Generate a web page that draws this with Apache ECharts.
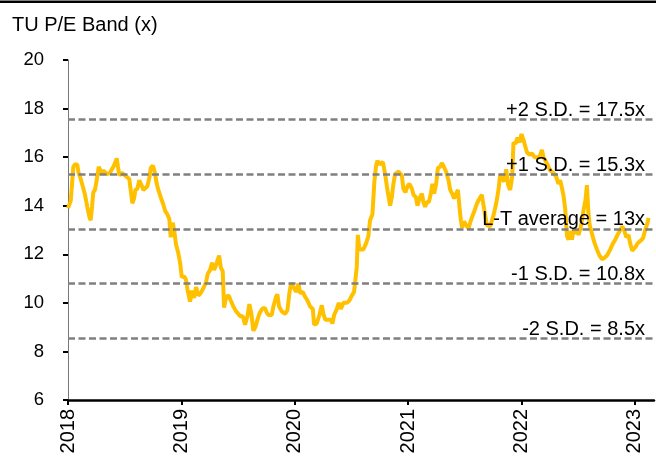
<!DOCTYPE html>
<html>
<head>
<meta charset="utf-8">
<script src="https://cdn.jsdelivr.net/npm/echarts@6/dist/echarts.min.js"></script>
<style>
  html, body { margin: 0; padding: 0; background: #fff; }
  #chart { width: 656px; height: 461px; }
</style>
</head>
<body>
<div id="chart"></div>
<script>
// decimal years
const dates = [
  2018.000, 2018.024, 2018.047, 2018.062, 2018.082, 2018.091, 2018.106, 2018.130, 2018.150, 2018.170,
  2018.188, 2018.200, 2018.212, 2018.223, 2018.238, 2018.253, 2018.271, 2018.282, 2018.297, 2018.312,
  2018.327, 2018.342, 2018.356, 2018.371, 2018.386, 2018.400, 2018.415, 2018.430, 2018.441, 2018.453,
  2018.474, 2018.488, 2018.503, 2018.518, 2018.541, 2018.553, 2018.568, 2018.583, 2018.594, 2018.612,
  2018.629, 2018.642, 2018.653, 2018.665, 2018.682, 2018.700, 2018.718, 2018.730, 2018.748, 2018.765,
  2018.783, 2018.797, 2018.818, 2018.841, 2018.856, 2018.876, 2018.894, 2018.906, 2018.924, 2018.938,
  2018.953, 2018.973, 2018.989, 2019.004, 2019.024, 2019.041, 2019.056, 2019.077, 2019.094, 2019.112,
  2019.130, 2019.150, 2019.171, 2019.194, 2019.218, 2019.233, 2019.253, 2019.271, 2019.289, 2019.306,
  2019.333, 2019.348, 2019.365, 2019.377, 2019.395, 2019.418, 2019.436, 2019.459, 2019.483, 2019.503,
  2019.518, 2019.542, 2019.562, 2019.583, 2019.600, 2019.618, 2019.635, 2019.653, 2019.671, 2019.688,
  2019.712, 2019.736, 2019.754, 2019.768, 2019.798, 2019.812, 2019.836, 2019.847, 2019.862, 2019.886,
  2019.915, 2019.936, 2019.953, 2019.968, 2019.989, 2020.012, 2020.033, 2020.048, 2020.071, 2020.092,
  2020.112, 2020.136, 2020.160, 2020.171, 2020.195, 2020.218, 2020.239, 2020.253, 2020.271, 2020.297,
  2020.319, 2020.333, 2020.348, 2020.372, 2020.389, 2020.407, 2020.430, 2020.460, 2020.483, 2020.504,
  2020.524, 2020.539, 2020.548, 2020.557, 2020.571, 2020.586, 2020.606, 2020.630, 2020.650, 2020.665,
  2020.686, 2020.703, 2020.718, 2020.730, 2020.748, 2020.760, 2020.778, 2020.798, 2020.818, 2020.842,
  2020.857, 2020.871, 2020.886, 2020.915, 2020.945, 2020.959, 2020.977, 2020.995, 2021.012, 2021.034,
  2021.048, 2021.069, 2021.083, 2021.101, 2021.122, 2021.136, 2021.151, 2021.166, 2021.184, 2021.201,
  2021.215, 2021.230, 2021.248, 2021.263, 2021.283, 2021.298, 2021.312, 2021.336, 2021.357, 2021.372,
  2021.389, 2021.407, 2021.425, 2021.440, 2021.454, 2021.466, 2021.477, 2021.495, 2021.513, 2021.533,
  2021.548, 2021.566, 2021.583, 2021.601, 2021.619, 2021.651, 2021.672, 2021.695, 2021.725, 2021.754,
  2021.778, 2021.798, 2021.813, 2021.828, 2021.848, 2021.866, 2021.883, 2021.901, 2021.919, 2021.930,
  2021.948, 2021.966, 2021.983, 2022.001, 2022.019, 2022.034, 2022.049, 2022.071, 2022.093, 2022.116,
  2022.137, 2022.160, 2022.181, 2022.195, 2022.225, 2022.254, 2022.283, 2022.307, 2022.327, 2022.342,
  2022.357, 2022.372, 2022.387, 2022.402, 2022.416, 2022.431, 2022.446, 2022.460, 2022.475, 2022.490,
  2022.504, 2022.525, 2022.548, 2022.566, 2022.578, 2022.590, 2022.601, 2022.622, 2022.643, 2022.666,
  2022.689, 2022.711, 2022.733, 2022.755, 2022.784, 2022.808, 2022.828, 2022.848, 2022.872, 2022.890,
  2022.907, 2022.925, 2022.945, 2022.960, 2022.978, 2022.989, 2023.007, 2023.025, 2023.049, 2023.072,
  2023.093, 2023.113, 2023.122
];

const peValues = [
  13.9, 14.2, 15.6, 15.7, 15.7, 15.4, 15.2, 14.8, 14.45, 13.95,
  13.55, 13.4, 13.95, 14.55, 14.65, 15.05, 15.6, 15.65, 15.35, 15.45,
  15.4, 15.3, 15.25, 15.35, 15.5, 15.6, 15.75, 15.95, 15.6, 15.25,
  15.35, 15.4, 15.25, 15.25, 15.1, 14.65, 14.1, 14.3, 14.65, 14.7,
  15.05, 15.1, 14.8, 14.65, 14.7, 14.8, 15.15, 15.55, 15.65, 15.4,
  14.9, 14.65, 14.35, 14.05, 13.8, 13.65, 13.45, 12.7, 13.3, 12.95,
  12.4, 12.05, 11.65, 11.05, 11.1, 10.95, 10.5, 10.05, 10.5, 10.2,
  10.65, 10.3, 10.4, 10.6, 10.85, 11.2, 11.35, 11.65, 11.35, 11.55,
  11.95, 11.45, 11.3, 9.8, 10.25, 10.3, 10.1, 9.85, 9.65, 9.55,
  9.45, 9.45, 9.1, 9.45, 9.95, 9.55, 8.85, 9.0, 9.3, 9.55,
  9.75, 9.8, 9.6, 9.5, 9.5, 9.85, 10.25, 10.35, 9.85, 9.65,
  9.55, 9.7, 10.4, 10.8, 10.65, 10.45, 10.8, 10.4, 10.45, 10.25,
  10.1, 9.85, 9.75, 9.1, 9.15, 9.5, 9.9, 9.55, 9.3, 9.3,
  9.3, 9.15, 9.5, 9.75, 10.0, 9.75, 10.0, 10.0, 10.1, 10.3,
  10.45, 10.5, 11.5, 12.8, 12.2, 12.2, 12.2, 12.45, 12.75, 13.4,
  13.65, 15.0, 15.65, 15.85, 15.7, 15.75, 15.8, 15.3, 14.65, 14.0,
  14.35, 14.9, 15.3, 15.4, 15.25, 14.7, 14.55, 14.8, 14.9, 14.7,
  14.45, 14.35, 14.0, 14.3, 14.5, 14.15, 13.95, 14.15, 14.15, 14.5,
  14.9, 14.5, 14.9, 15.55, 15.6, 15.75, 15.65, 15.4, 15.05, 14.65,
  14.5, 14.3, 14.5, 14.65, 13.95, 13.4, 13.1, 13.35, 13.2, 13.05,
  13.3, 13.55, 13.75, 14.0, 14.2, 14.45, 13.85, 13.2, 13.15, 13.6,
  14.1, 14.65, 15.3, 15.1, 15.0, 15.5, 14.85, 14.65, 15.2, 16.6,
  16.55, 16.8, 16.6, 16.95, 16.7, 16.45, 16.2, 16.1, 16.15, 16.0,
  16.0, 16.0, 16.3, 16.0, 15.75, 15.45, 15.35, 15.2, 14.9, 15.05,
  14.75, 14.4, 13.85, 12.75, 12.6, 12.95, 12.6, 13.0, 12.85, 13.0,
  12.8, 13.15, 13.8, 14.25, 14.85, 13.8, 13.25, 12.85, 12.5, 12.2,
  11.95, 11.8, 11.85, 11.95, 12.2, 12.45, 12.6, 12.8, 13.0, 13.15,
  13.0, 12.7, 12.8, 12.45, 12.15, 12.1, 12.3, 12.45, 12.55, 12.65,
  13.0, 13.3, 13.5
];

const bandValues = [17.55, 15.3, 13.05, 10.8, 8.55];
const bandLabels = ['+2 S.D. = 17.5x', '+1 S.D. = 15.3x', 'L-T average = 13x', '-1 S.D. = 10.8x', '-2 S.D. = 8.5x'];
const yearTicks = [2018, 2019, 2020, 2021, 2022, 2023];

const chart = echarts.init(document.getElementById('chart'));
const font = 'Arial, "Liberation Sans", sans-serif';

const option = {
  animation: false,
  title: {
    text: 'TU P/E Band (x)',
    left: 7,
    top: 10,
    textStyle: { fontFamily: font, fontSize: 20, fontWeight: 'normal', color: '#000' }
  },
  graphic: [
    { type: 'rect', left: 0, top: 0.5, shape: { width: 656, height: 2.5 }, style: { fill: '#000' } }
  ],
  grid: { left: 68, right: 2, top: 60, bottom: 61 },
  xAxis: {
    type: 'value',
    min: 2018,
    max: 2023.17,
    splitLine: { show: false },
    axisLine: { lineStyle: { color: '#000', width: 2.5 } },
    axisTick: { length: 5, customValues: yearTicks, lineStyle: { color: '#000', width: 2 } },
    axisLabel: {
      customValues: yearTicks,
      rotate: 90,
      margin: 9,
      fontFamily: font,
      fontSize: 20,
      color: '#000',
      formatter: v => String(Math.round(v))
    }
  },
  yAxis: {
    type: 'value',
    min: 6,
    max: 20,
    interval: 2,
    splitLine: { show: false },
    axisLine: { show: true, lineStyle: { color: '#777', width: 1 } },
    axisTick: { show: true, length: 5, lineStyle: { color: '#000', width: 2 } },
    axisLabel: { margin: 24, fontFamily: font, fontSize: 18.5, color: '#000' }
  },
  series: [
    {
      type: 'line',
      data: dates.map((d, i) => [d, peValues[i]]),
      showSymbol: false,
      lineStyle: { color: '#FFC000', width: 4 },
      itemStyle: { color: '#FFC000' },
      z: 3,
      markLine: {
        silent: true,
        symbol: 'none',
        animation: false,
        lineStyle: { color: '#808080', width: 2.5, type: [7, 3.5] },
        data: bandValues.map((v, i) => ({
          yAxis: v,
          label: {
            show: true,
            position: 'insideEndTop',
            distance: [9, -1],
            formatter: bandLabels[i],
            fontFamily: font,
            fontSize: 20,
            color: '#000'
          }
        }))
      }
    }
  ]
};

chart.setOption(option);
</script>
</body>
</html>
